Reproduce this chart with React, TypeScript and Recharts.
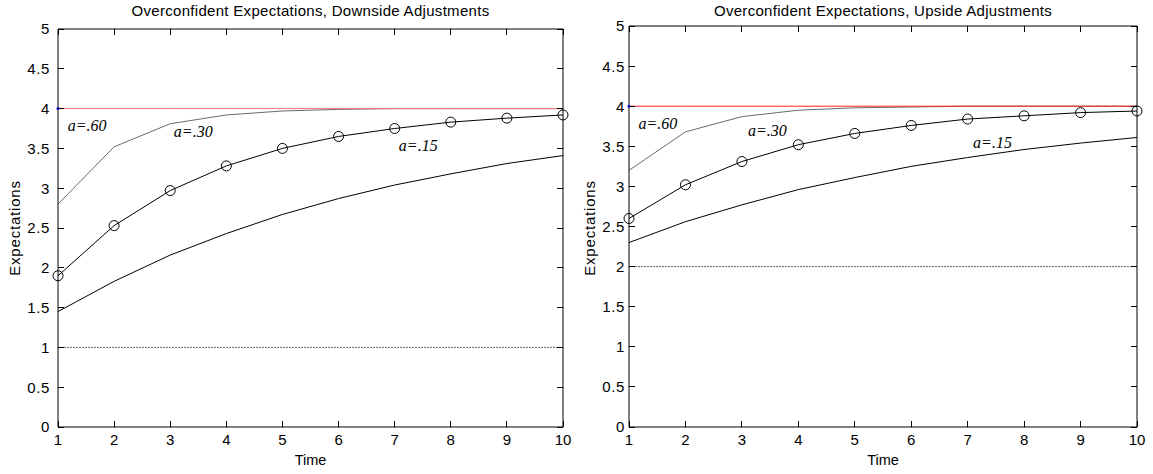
import React from "react";
import {
  LineChart,
  Line,
  XAxis,
  YAxis,
  ReferenceDot,
  ReferenceLine,
} from "recharts";

// time steps and tick values
const times = [1, 2, 3, 4, 5, 6, 7, 8, 9, 10];
const yTicks = [0, 0.5, 1, 1.5, 2, 2.5, 3, 3.5, 4, 4.5, 5];

// true value both panels converge to
const target = [4, 4, 4, 4, 4, 4, 4, 4, 4, 4];

// downside panel (starting belief 1)
const downStart = [1, 1, 1, 1, 1, 1, 1, 1, 1, 1];
const downA60 = [2.8, 3.52, 3.81, 3.92, 3.97, 3.99, 4.0, 4.0, 4.0, 4.0];
const downA30 = [1.9, 2.53, 2.97, 3.28, 3.5, 3.65, 3.75, 3.83, 3.88, 3.92];
const downA15 = [1.45, 1.83, 2.16, 2.43, 2.67, 2.87, 3.04, 3.18, 3.31, 3.41];

// upside panel (starting belief 2)
const upStart = [2, 2, 2, 2, 2, 2, 2, 2, 2, 2];
const upA60 = [3.2, 3.68, 3.87, 3.95, 3.98, 3.99, 4.0, 4.0, 4.0, 4.0];
const upA30 = [2.6, 3.02, 3.31, 3.52, 3.66, 3.76, 3.84, 3.88, 3.92, 3.94];
const upA15 = [2.3, 2.56, 2.77, 2.96, 3.11, 3.25, 3.36, 3.46, 3.54, 3.61];

type Note = { text: string; x: number; y: number };

const downNotes: Note[] = [
  { text: "a=.60", x: 1.52, y: 3.79 },
  { text: "a=.30", x: 3.41, y: 3.72 },
  { text: "a=.15", x: 7.42, y: 3.54 },
];
const upNotes: Note[] = [
  { text: "a=.60", x: 1.51, y: 3.79 },
  { text: "a=.30", x: 3.45, y: 3.7 },
  { text: "a=.15", x: 7.44, y: 3.55 },
];

const sans = "'Liberation Sans', Arial, sans-serif";
const TICK_LEN = 6;
const CHART_H = 474;
const X_AXIS_H = 20;
const BOTTOM_MARGIN = 27;

const buildRows = (start: number[], a60: number[], a30: number[], a15: number[]) =>
  times.map((t, i) => ({
    t,
    start: start[i],
    target: target[i],
    a60: a60[i],
    a30: a30[i],
    a15: a15[i],
  }));

type PanelProps = {
  left: number;
  width: number;
  title: string;
  rows: any[];
  notes: Note[];
  top: number;
  right: number;
  yAxisWidth: number;
  labelGap: number;
  redColor: string;
  ylabelX: number;
};

const Panel = ({
  left,
  width,
  title,
  rows,
  notes,
  top,
  right,
  yAxisWidth,
  labelGap,
  redColor,
  ylabelX,
}: PanelProps) => {
  const plotLeft = yAxisWidth;
  const plotRight = width - right;
  const plotTop = top;
  const plotBottom = CHART_H - BOTTOM_MARGIN - X_AXIS_H;
  const center = (plotLeft + plotRight) / 2;

  // MATLAB-style inward ticks on all four sides, drawn from the x / y tick positions
  const xTick = (p: any) => (
    <g>
      <line
        x1={p.x}
        x2={p.x}
        y1={plotBottom}
        y2={plotBottom - TICK_LEN}
        stroke="#000"
        shapeRendering="crispEdges"
      />
      <line
        x1={p.x}
        x2={p.x}
        y1={plotTop}
        y2={plotTop + TICK_LEN}
        stroke="#000"
        shapeRendering="crispEdges"
      />
      <text
        x={p.x}
        y={plotBottom + 18}
        textAnchor="middle"
        fontSize={15}
        fontFamily={sans}
        fill="#000"
      >
        {p.payload.value}
      </text>
    </g>
  );
  const yTick = (p: any) => (
    <g>
      <line
        x1={plotLeft}
        x2={plotLeft + TICK_LEN}
        y1={p.y}
        y2={p.y}
        stroke="#000"
        shapeRendering="crispEdges"
      />
      <line
        x1={plotRight}
        x2={plotRight - TICK_LEN}
        y1={p.y}
        y2={p.y}
        stroke="#000"
        shapeRendering="crispEdges"
      />
      <text
        x={plotLeft - labelGap}
        y={p.y}
        dy="0.36em"
        textAnchor="end"
        fontSize={15}
        letterSpacing={0.6}
        fontFamily={sans}
        fill="#000"
      >
        {p.payload.value}
      </text>
    </g>
  );

  return (
    <div style={{ position: "absolute", left, top: 0, width, height: CHART_H }}>
      <LineChart
        width={width}
        height={CHART_H}
        data={rows}
        margin={{ top, right, left: 0, bottom: BOTTOM_MARGIN }}
      >
        <XAxis
          dataKey="t"
          type="number"
          domain={[1, 10]}
          ticks={times}
          height={X_AXIS_H}
          tick={xTick}
          tickLine={false}
          axisLine={{ stroke: "#000" }}
          interval={0}
        />
        <YAxis
          type="number"
          domain={[0, 5]}
          ticks={yTicks}
          width={yAxisWidth}
          tick={yTick}
          tickLine={false}
          axisLine={{ stroke: "#000" }}
          interval={0}
        />
        {/* closing the box on top and right */}
        <ReferenceLine y={5} stroke="#000" strokeWidth={1} />
        <ReferenceLine x={10} stroke="#000" strokeWidth={1} />
        <Line
          dataKey="start"
          type="linear"
          stroke="#666"
          strokeWidth={1}
          strokeDasharray="2 1"
          dot={false}
          isAnimationActive={false}
        />
        <Line
          dataKey="a60"
          type="linear"
          stroke="#6a6a6a"
          strokeWidth={1}
          dot={false}
          isAnimationActive={false}
        />
        <Line
          dataKey="target"
          type="linear"
          stroke={redColor}
          strokeWidth={1}
          dot={false}
          isAnimationActive={false}
        />
        <Line
          dataKey="a15"
          type="linear"
          stroke="#000"
          strokeWidth={1}
          dot={false}
          isAnimationActive={false}
        />
        <Line
          dataKey="a30"
          type="linear"
          stroke="#000"
          strokeWidth={1}
          dot={{ r: 5, stroke: "#000", strokeWidth: 1, fill: "none" }}
          isAnimationActive={false}
        />
        <ReferenceDot x={1} y={4} r={1.5} fill="#0000ff" stroke="none" />
        {notes.map((n) => (
          <ReferenceDot
            key={n.text}
            x={n.x}
            y={n.y}
            r={0}
            fill="none"
            stroke="none"
            label={{
              value: n.text,
              position: "center",
              fill: "#000",
              fontSize: 16,
              fontStyle: "italic",
              fontFamily: "'Liberation Serif', 'Times New Roman', serif",
            }}
          />
        ))}
      </LineChart>
      <div
        style={{
          position: "absolute",
          left: center - 250,
          width: 500,
          top: 2,
          textAlign: "center",
          fontFamily: sans,
          fontSize: 15,
          letterSpacing: 0.3,
          lineHeight: "18px",
        }}
      >
        {title}
      </div>
      <div
        style={{
          position: "absolute",
          left: center - 50,
          width: 100,
          top: 451,
          textAlign: "center",
          fontFamily: sans,
          fontSize: 14.5,
          lineHeight: "18px",
        }}
      >
        Time
      </div>
      <div
        style={{
          position: "absolute",
          left: ylabelX - 60,
          top: 228 - 9,
          width: 120,
          textAlign: "center",
          fontFamily: sans,
          fontSize: 15,
          letterSpacing: 0.8,
          lineHeight: "18px",
          transform: "rotate(-90deg)",
        }}
      >
        Expectations
      </div>
    </div>
  );
};

export default function App() {
  return (
    <div
      style={{
        position: "absolute",
        left: 0,
        top: 0,
        width: 1153,
        height: 474,
        background: "#fff",
        overflow: "hidden",
      }}
    >
      <Panel
        left={0}
        width={576}
        title="Overconfident Expectations, Downside Adjustments"
        rows={buildRows(downStart, downA60, downA30, downA15)}
        notes={downNotes}
        top={29}
        right={13}
        yAxisWidth={58}
        labelGap={8}
        redColor="#f07878"
        ylabelX={15}
      />
      <Panel
        left={576}
        width={577}
        title="Overconfident Expectations, Upside Adjustments"
        rows={buildRows(upStart, upA60, upA30, upA15)}
        notes={upNotes}
        top={26}
        right={16}
        yAxisWidth={53}
        labelGap={4}
        redColor="#ff2020"
        ylabelX={14}
      />
    </div>
  );
}
